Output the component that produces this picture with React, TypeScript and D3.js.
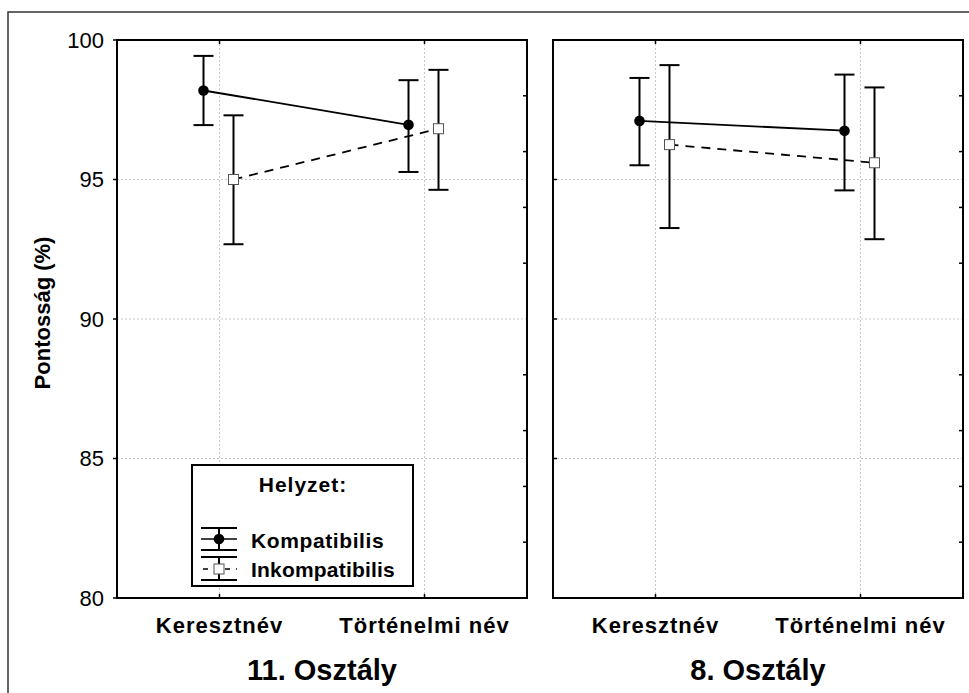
import * as d3 from "d3";

// categories and groups
const categories = ["Keresztnév", "Történelmi név"];
const panels = ["11. Osztály", "8. Osztály"];

// means and error bar limits, [panel][category]
const kompMean = [[98.19, 96.96], [97.1, 96.75]];
const kompLow = [[96.95, 95.27], [95.51, 94.61]];
const kompHigh = [[99.43, 98.56], [98.64, 98.76]];

const inkompMean = [[95.0, 96.82], [96.25, 95.6]];
const inkompLow = [[92.68, 94.63], [93.26, 92.86]];
const inkompHigh = [[97.3, 98.93], [99.1, 98.3]];

const yTicks = [80, 85, 90, 95, 100];
const rightTicks = [82, 84, 86, 88, 92, 94, 96, 98];

const FONT = "'Liberation Sans', Arial, sans-serif";

const W = 969;
const H = 693;

const panelX = d3.scaleBand().domain(panels).range([117, 963]).paddingInner(0.0596);
const y = d3.scaleLinear().domain([80, 100]).range([598, 40]);
const x = d3.scalePoint().domain(categories).range([0, panelX.bandwidth()]).padding(0.5);

const series = [
  { name: "Kompatibilis", mean: kompMean, lo: kompLow, hi: kompHigh, dx: -16, dashed: false },
  { name: "Inkompatibilis", mean: inkompMean, lo: inkompLow, hi: inkompHigh, dx: 14, dashed: true },
];

const ErrorBar = ({ cx, lo, hi, cap = 10 }: { cx: number; lo: number; hi: number; cap?: number }) => (
  <g stroke="#000" strokeWidth={2}>
    <line x1={cx} x2={cx} y1={lo} y2={hi} />
    <line x1={cx - cap} x2={cx + cap} y1={lo} y2={lo} />
    <line x1={cx - cap} x2={cx + cap} y1={hi} y2={hi} />
  </g>
);

const Panel = ({ pi }: { pi: number }) => {
  const left = panelX(panels[pi])!;
  const bw = panelX.bandwidth();
  const top = y(100);
  const bottom = y(80);
  const line = d3.line<[number, number]>();
  return (
    <g transform={`translate(${left},0)`}>
      {/* grid */}
      {[85, 90, 95].map((t) => (
        <line key={t} x1={0} x2={bw} y1={y(t)} y2={y(t)} stroke="#c8c8c8" strokeWidth={1} strokeDasharray="2,2" />
      ))}
      {categories.map((c) => (
        <line key={c} x1={x(c)} x2={x(c)} y1={top} y2={bottom} stroke="#c8c8c8" strokeWidth={1} strokeDasharray="2,2" />
      ))}
      {/* frame ticks */}
      {categories.map((c) => (
        <g key={c} stroke="#000" strokeWidth={1.5}>
          <line x1={x(c)} x2={x(c)} y1={top} y2={top + 4} />
          <line x1={x(c)} x2={x(c)} y1={bottom} y2={bottom - 4} />
        </g>
      ))}
      {rightTicks.map((t) => (
        <line key={t} x1={bw} x2={bw - 4} y1={y(t)} y2={y(t)} stroke="#000" strokeWidth={1.5} />
      ))}
      {yTicks.map((t) => (
        <line key={t} x1={0} x2={pi === 0 ? -4 : 4} y1={y(t)} y2={y(t)} stroke="#000" strokeWidth={1.5} />
      ))}
      <rect x={0} y={top} width={bw} height={bottom - top} fill="none" stroke="#000" strokeWidth={2} />

      {/* series */}
      {series.map((s) => {
        const pts = categories.map((c, ci) => [x(c)! + s.dx, y(s.mean[pi][ci])] as [number, number]);
        return (
          <g key={s.name}>
            <path d={line(pts)!} fill="none" stroke="#000" strokeWidth={1.8} strokeDasharray={s.dashed ? "9,7" : undefined} />
            {categories.map((c, ci) => (
              <ErrorBar key={c} cx={pts[ci][0]} lo={y(s.lo[pi][ci])} hi={y(s.hi[pi][ci])} />
            ))}
            {pts.map((p, i) =>
              s.dashed ? (
                <rect key={i} x={p[0] - 5} y={p[1] - 5} width={10} height={10} fill="#fff" stroke="#555" strokeWidth={1} />
              ) : (
                <circle key={i} cx={p[0]} cy={p[1]} r={5.3} fill="#000" />
              )
            )}
          </g>
        );
      })}

      {/* category labels */}
      {categories.map((c) => (
        <text key={c} x={x(c)} y={633} textAnchor="middle" fontSize={22} fontWeight="bold" letterSpacing={1} fontFamily={FONT}>
          {c}
        </text>
      ))}
      <text x={bw / 2} y={680} textAnchor="middle" fontSize={29} fontWeight="bold" fontFamily={FONT}>
        {panels[pi]}
      </text>
    </g>
  );
};

const Legend = () => {
  const gx = 219;
  return (
    <g fontFamily={FONT} fontWeight="bold" fontSize={21}>
      <rect x={192} y={465} width={221} height={121} fill="#fff" stroke="#000" strokeWidth={2} />
      <text x={303} y={492} textAnchor="middle" letterSpacing={1}>Helyzet:</text>
      {/* Kompatibilis symbol */}
      <g stroke="#000" strokeWidth={2}>
        <line x1={gx - 18} x2={gx + 18} y1={528} y2={528} />
        <line x1={gx - 18} x2={gx + 18} y1={550} y2={550} />
        <line x1={gx} x2={gx} y1={528} y2={550} />
        <line x1={gx - 18} x2={gx + 18} y1={539} y2={539} strokeWidth={1.5} />
      </g>
      <circle cx={gx} cy={539} r={5.3} fill="#000" />
      {/* Inkompatibilis symbol */}
      <g stroke="#000" strokeWidth={2}>
        <line x1={gx - 18} x2={gx + 18} y1={557} y2={557} />
        <line x1={gx - 18} x2={gx + 18} y1={580} y2={580} />
        <line x1={gx} x2={gx} y1={557} y2={580} />
        <line x1={gx - 16} x2={gx + 18} y1={569} y2={569} strokeWidth={1.5} strokeDasharray="5,6" />
      </g>
      <rect x={gx - 5} y={564} width={10} height={10} fill="#fff" stroke="#555" strokeWidth={1} />
      <text x={251} y={548} letterSpacing={0.6}>Kompatibilis</text>
      <text x={251} y={577} letterSpacing={0.2}>Inkompatibilis</text>
    </g>
  );
};

export default function App() {
  return (
    <svg width={W} height={H} style={{ position: "absolute", left: 0, top: 0, background: "#fff" }}>
      <rect x={8} y={12} width={1000} height={1000} fill="#fff" stroke="#333" strokeWidth={1.5} />
      {yTicks.map((t) => (
        <text key={t} x={104} y={y(t)} textAnchor="end" dominantBaseline="central" fontSize={22} fontFamily={FONT}>
          {t}
        </text>
      ))}
      <text
        transform={`translate(50,313) rotate(-90)`}
        textAnchor="middle"
        fontSize={22}
        fontWeight="bold"
        fontFamily={FONT}
      >
        Pontosság (%)
      </text>
      {panels.map((p, i) => (
        <Panel key={p} pi={i} />
      ))}
      <Legend />
    </svg>
  );
}
